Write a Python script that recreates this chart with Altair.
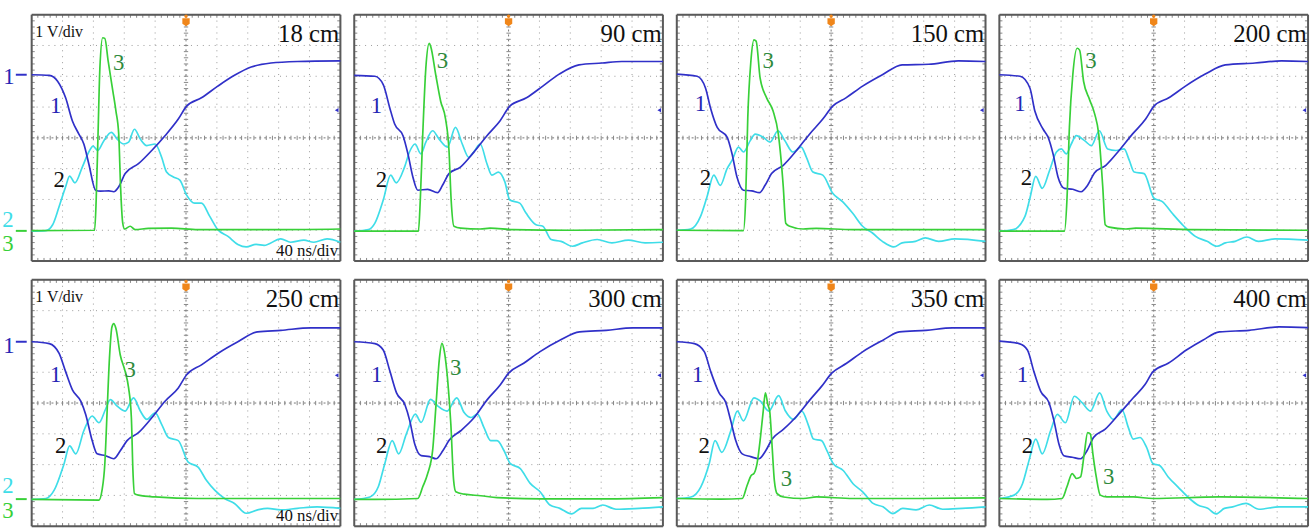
import altair as alt
import pandas as pd

TITLES = ["18 cm", "90 cm", "150 cm", "200 cm", "250 cm", "300 cm", "350 cm", "400 cm"]

# ---- trace 1 (blue), trace 2 (cyan), trace 3 (green); x in divisions (0..10), y in divisions (-4..4)
P1_CH1 = [(0, 2.05), (0.57, 2.03), (0.84, 1.84), (1.10, 1.30), (1.32, 0.55), (1.53, 0.12), (1.69, -0.20),
          (1.85, -0.84), (2.07, -1.70), (2.23, -1.73), (2.50, -1.72), (2.66, -1.75), (2.82, -1.59),
          (3.03, -1.16), (3.46, -0.84), (3.89, -0.41), (4.32, 0.07), (4.75, 0.61), (5.02, 1.03),
          (5.50, 1.30), (6.03, 1.68), (6.57, 2.03), (7.11, 2.30), (7.75, 2.43), (8.61, 2.48), (10, 2.50)]
P1_CH2 = [(0, -3.03), (0.46, -3.01), (0.68, -2.82), (0.89, -2.23), (1.10, -1.59), (1.23, -1.24),
          (1.40, -1.46), (1.64, -0.95), (1.85, -0.46), (1.99, -0.27), (2.14, -0.41), (2.34, -0.09),
          (2.58, 0.18), (2.77, -0.04), (2.98, -0.20), (3.14, -0.14), (3.33, 0.28), (3.52, -0.04),
          (3.73, -0.25), (4.0, -0.20), (4.21, -0.63), (4.37, -1.11), (4.59, -1.27), (4.80, -1.37),
          (5.02, -1.86), (5.28, -2.12), (5.50, -2.12), (5.77, -2.55), (6.03, -2.98), (6.36, -3.20),
          (6.68, -3.46), (6.95, -3.54), (7.27, -3.46), (7.53, -3.49), (8.07, -3.28), (8.39, -3.39),
          (8.82, -3.32), (9.14, -3.39), (9.57, -3.28), (10, -3.39)]
P1_CH3 = [(0, -3.01), (2.04, -3.00), (2.09, -2.02), (2.15, 0.12), (2.21, 2.27), (2.30, 3.25), (2.37, 3.23),
          (2.48, 2.48), (2.63, 1.52), (2.73, 0.87), (2.82, 0.12), (2.88, -1.59), (2.95, -2.77),
          (3.01, -2.96), (3.19, -2.87), (3.35, -2.98), (3.78, -2.94), (4.53, -2.93), (5.39, -2.98),
          (6.46, -2.98), (8.07, -2.98), (10, -2.96)]

P2_CH1 = [(0, 2.03), (0.67, 2.0), (0.94, 1.73), (1.15, 0.98), (1.31, 0.45), (1.58, 0.07), (1.74, -0.52),
          (1.90, -1.27), (2.06, -1.70), (2.38, -1.67), (2.70, -1.78), (2.86, -1.54), (3.07, -1.16),
          (3.44, -0.95), (3.87, -0.47), (4.30, 0.07), (4.72, 0.55), (5.04, 1.03), (5.58, 1.30),
          (6.11, 1.68), (6.64, 2.07), (7.28, 2.37), (8.03, 2.43), (8.67, 2.48), (10, 2.48)]
P2_CH2 = [(0, -3.03), (0.46, -2.98), (0.67, -2.77), (0.94, -2.02), (1.18, -1.21), (1.36, -1.46),
          (1.63, -0.95), (1.79, -0.46), (1.97, -0.20), (2.16, -0.52), (2.32, -0.14), (2.54, 0.23),
          (2.75, -0.04), (3.02, -0.30), (3.28, 0.34), (3.50, -0.20), (3.71, -0.63), (3.87, -0.46),
          (4.08, -0.20), (4.30, -0.84), (4.46, -1.21), (4.67, -1.11), (4.88, -1.43), (5.04, -2.02),
          (5.36, -2.12), (5.57, -2.45), (5.89, -2.82), (6.11, -2.87), (6.38, -3.30), (6.70, -3.36),
          (7.07, -3.52), (7.39, -3.41), (7.87, -3.30), (8.35, -3.41), (8.88, -3.32), (9.42, -3.41),
          (10, -3.39)]
P2_CH3 = [(0, -3.03), (2.08, -3.03), (2.14, -2.02), (2.22, 0.12), (2.32, 2.27), (2.43, 3.07), (2.48, 2.96),
          (2.64, 2.05), (2.80, 1.19), (2.96, 0.61), (3.07, -0.41), (3.14, -2.02), (3.23, -2.87),
          (3.45, -2.93), (4.08, -2.96), (4.40, -2.93), (5.15, -2.98), (7.07, -3.00), (10, -2.98)]

P3_CH1 = [(0, 2.07), (0.66, 2.0), (0.93, 1.62), (1.09, 0.98), (1.31, 0.34), (1.63, 0.02), (1.79, -0.52),
          (1.95, -1.27), (2.16, -1.70), (2.43, -1.72), (2.68, -1.78), (2.86, -1.54), (3.07, -1.16),
          (3.45, -0.89), (3.88, -0.41), (4.30, 0.12), (4.73, 0.61), (5.05, 1.03), (5.48, 1.30),
          (6.02, 1.68), (6.66, 2.05), (7.30, 2.37), (8.16, 2.39), (9.12, 2.50), (10, 2.48)]
P3_CH2 = [(0, -3.0), (0.45, -2.96), (0.77, -2.55), (0.98, -1.91), (1.20, -1.21), (1.41, -1.54),
          (1.63, -1.0), (1.79, -0.73), (2.0, -0.30), (2.16, -0.46), (2.38, -0.09), (2.54, 0.12),
          (2.80, 0.02), (3.02, -0.14), (3.28, 0.23), (3.50, -0.09), (3.76, -0.46), (4.03, -0.30),
          (4.20, -0.63), (4.41, -1.11), (4.73, -1.21), (5.05, -1.80), (5.37, -2.07), (5.70, -2.45),
          (6.02, -2.87), (6.34, -3.09), (6.66, -3.36), (7.03, -3.54), (7.30, -3.41), (7.73, -3.36),
          (8.05, -3.25), (8.48, -3.36), (9.01, -3.28), (10, -3.36)]
P3_CH3 = [(0, -3.0), (2.16, -3.01), (2.23, -2.02), (2.30, 0.66), (2.40, 2.48), (2.50, 3.18), (2.57, 3.14),
          (2.70, 1.94), (2.91, 1.30), (3.12, 0.87), (3.29, 0.12), (3.45, -1.59), (3.53, -2.77),
          (3.66, -2.87), (4.09, -2.96), (4.52, -2.94), (5.70, -2.98), (10, -2.98)]

P4_CH1 = [(0, 2.05), (0.67, 2.0), (0.99, 1.62), (1.15, 0.87), (1.42, 0.28), (1.58, 0.02), (1.74, -0.52),
          (1.90, -1.27), (2.11, -1.64), (2.38, -1.67), (2.65, -1.75), (2.86, -1.54), (3.08, -1.14),
          (3.45, -0.89), (3.88, -0.41), (4.31, 0.12), (4.74, 0.61), (5.01, 1.03), (5.49, 1.30),
          (6.03, 1.68), (6.67, 2.07), (7.32, 2.37), (8.28, 2.43), (9.14, 2.50), (10, 2.48)]
P4_CH2 = [(0, -3.03), (0.45, -2.98), (0.83, -2.55), (0.99, -1.96), (1.18, -1.25), (1.39, -1.64),
          (1.63, -1.05), (1.85, -0.46), (2.01, -0.36), (2.17, -0.52), (2.33, -0.20), (2.49, 0.07),
          (2.76, -0.09), (2.98, -0.25), (3.24, 0.23), (3.51, -0.36), (3.78, -0.41), (4.04, -0.36),
          (4.21, -0.73), (4.37, -1.11), (4.69, -1.16), (5.01, -1.96), (5.28, -2.07), (5.60, -2.45),
          (5.98, -2.87), (6.35, -3.20), (6.73, -3.36), (7.05, -3.52), (7.32, -3.41), (7.64, -3.36),
          (8.02, -3.22), (8.39, -3.36), (8.93, -3.28), (10, -3.32)]
P4_CH3 = [(0, -3.03), (2.11, -3.03), (2.19, -2.02), (2.27, 0.34), (2.38, 2.05), (2.52, 2.91), (2.60, 2.85),
          (2.73, 1.83), (2.92, 1.25), (3.09, 0.77), (3.22, 0.12), (3.35, -1.59), (3.43, -2.82),
          (3.56, -2.90), (4.10, -2.96), (4.42, -2.93), (6.24, -2.98), (10, -3.0)]

P5_CH1 = [(0, 1.99), (0.57, 1.93), (0.89, 1.61), (1.10, 1.02), (1.32, 0.43), (1.59, 0.06), (1.75, -0.37),
          (1.96, -1.22), (2.12, -1.65), (2.39, -1.71), (2.66, -1.81), (2.87, -1.55), (3.09, -1.22),
          (3.46, -0.96), (3.89, -0.48), (4.32, 0.06), (4.75, 0.49), (5.02, 0.92), (5.50, 1.24),
          (6.03, 1.61), (6.68, 1.99), (7.32, 2.31), (8.07, 2.36), (9.04, 2.44), (10, 2.44)]
P5_CH2 = [(0, -3.13), (0.46, -3.10), (0.73, -2.83), (1.05, -1.97), (1.23, -1.39), (1.43, -1.65),
          (1.69, -0.90), (1.96, -0.42), (2.18, -0.64), (2.39, -0.21), (2.55, 0.11), (2.77, -0.10),
          (3.03, -0.26), (3.30, 0.17), (3.52, -0.26), (3.73, -0.53), (4.0, -0.32), (4.21, -0.69),
          (4.43, -1.12), (4.75, -1.22), (5.07, -1.92), (5.39, -2.08), (5.66, -2.51), (5.93, -2.83),
          (6.25, -3.10), (6.57, -3.26), (6.95, -3.58), (7.32, -3.47), (7.64, -3.42), (8.07, -3.47),
          (8.61, -3.42), (9.25, -3.37), (10, -3.42)]
P5_CH3 = [(0, -3.13), (2.18, -3.15), (2.28, -2.83), (2.37, -1.97), (2.44, -0.37), (2.52, 1.45), (2.60, 2.47),
          (2.66, 2.58), (2.73, 2.42), (2.87, 1.56), (3.03, 1.02), (3.14, 0.49), (3.23, -0.48),
          (3.28, -2.19), (3.33, -2.94), (3.46, -2.99), (4.0, -3.05), (5.39, -3.10), (7.53, -3.10),
          (10, -3.10)]

P6_CH1 = [(0, 1.99), (0.67, 1.93), (0.94, 1.72), (1.16, 1.02), (1.37, 0.33), (1.64, -0.05), (1.80, -0.58),
          (1.96, -1.33), (2.17, -1.71), (2.44, -1.74), (2.65, -1.81), (2.87, -1.55), (3.08, -1.20),
          (3.45, -0.90), (3.88, -0.48), (4.31, 0.11), (4.74, 0.60), (5.0, 0.97), (5.49, 1.29),
          (6.02, 1.67), (6.66, 2.04), (7.30, 2.31), (8.16, 2.36), (9.02, 2.44), (10, 2.44)]
P6_CH2 = [(0, -3.13), (0.51, -3.05), (0.78, -2.72), (0.99, -1.97), (1.23, -1.22), (1.44, -1.65),
          (1.69, -1.0), (1.98, -0.36), (2.17, -0.63), (2.47, 0.12), (2.71, -0.10), (3.01, -0.26),
          (3.32, 0.17), (3.56, -0.31), (3.78, -0.47), (3.99, -0.36), (4.20, -0.79), (4.42, -1.22),
          (4.63, -1.22), (4.85, -1.54), (5.06, -1.97), (5.38, -2.13), (5.70, -2.61), (6.02, -2.88),
          (6.34, -3.31), (6.66, -3.42), (7.04, -3.60), (7.36, -3.42), (7.73, -3.42), (8.05, -3.31),
          (8.48, -3.45), (9.23, -3.42), (10, -3.37)]
P6_CH3 = [(0, -3.13), (0.67, -3.13), (2.06, -3.10), (2.22, -2.72), (2.38, -2.29), (2.54, -1.54),
          (2.65, -0.05), (2.76, 1.45), (2.84, 1.94), (2.92, 1.67), (3.03, 0.71), (3.13, -0.69),
          (3.22, -2.51), (3.29, -2.88), (3.56, -2.96), (4.10, -3.01), (4.63, -3.07), (6.02, -3.11),
          (8.16, -3.11), (10, -3.07)]

P7_CH1 = [(0, 1.99), (0.57, 1.93), (0.89, 1.67), (1.10, 1.02), (1.37, 0.33), (1.59, 0.01), (1.75, -0.58),
          (1.91, -1.22), (2.12, -1.65), (2.39, -1.74), (2.66, -1.81), (2.88, -1.55), (3.09, -1.17),
          (3.46, -0.85), (3.89, -0.42), (4.32, 0.11), (4.69, 0.54), (5.02, 0.97), (5.50, 1.29),
          (6.03, 1.67), (6.68, 2.04), (7.21, 2.31), (8.07, 2.36), (8.93, 2.44), (10, 2.44)]
P7_CH2 = [(0, -3.10), (0.46, -3.05), (0.78, -2.72), (1.05, -1.97), (1.24, -1.22), (1.46, -1.60),
          (1.75, -0.90), (1.96, -0.26), (2.16, -0.58), (2.50, 0.17), (2.71, 0.06), (2.98, -0.26),
          (3.30, 0.24), (3.52, -0.26), (3.78, -0.53), (4.05, -0.26), (4.27, -0.74), (4.43, -1.17),
          (4.69, -1.22), (4.86, -1.54), (5.07, -1.97), (5.39, -2.19), (5.71, -2.62), (6.03, -2.89),
          (6.36, -3.26), (6.68, -3.37), (7.0, -3.59), (7.32, -3.42), (7.75, -3.47), (8.18, -3.31),
          (8.61, -3.45), (9.25, -3.42), (10, -3.37)]
P7_CH3 = [(0, -3.10), (1.43, -3.12), (2.12, -3.10), (2.28, -2.67), (2.41, -2.35), (2.50, -2.29),
          (2.60, -1.97), (2.71, -1.12), (2.80, -0.26), (2.87, 0.33), (2.95, -0.05), (3.01, -0.26),
          (3.09, -1.44), (3.16, -2.51), (3.25, -2.94), (3.46, -3.05), (4.10, -3.10), (4.53, -3.05),
          (5.71, -3.10), (7.86, -3.10), (10, -3.08)]

P8_CH1 = [(0, 2.01), (0.64, 1.93), (0.91, 1.72), (1.12, 1.02), (1.34, 0.38), (1.61, 0.01), (1.77, -0.58),
          (1.93, -1.33), (2.09, -1.71), (2.36, -1.76), (2.63, -1.81), (2.84, -1.55), (3.05, -1.12),
          (3.43, -0.85), (3.91, -0.32), (4.34, 0.17), (4.72, 0.60), (4.98, 1.02), (5.47, 1.29),
          (6.06, 1.72), (6.59, 2.04), (7.13, 2.31), (8.09, 2.36), (9.06, 2.47), (10, 2.45)]
P8_CH2 = [(0, -3.10), (0.48, -2.99), (0.75, -2.62), (0.96, -1.87), (1.18, -1.17), (1.39, -1.65),
          (1.66, -0.90), (1.88, -0.37), (2.14, -0.64), (2.43, 0.22), (2.68, 0.01), (2.95, -0.26),
          (3.25, 0.33), (3.48, -0.26), (3.70, -0.53), (3.97, -0.21), (4.18, -0.80), (4.34, -1.17),
          (4.56, -1.12), (4.77, -1.44), (4.98, -1.97), (5.19, -2.03), (5.47, -2.40), (5.79, -2.73),
          (6.16, -3.10), (6.43, -3.31), (6.75, -3.42), (7.02, -3.60), (7.29, -3.42), (7.56, -3.37),
          (7.99, -3.26), (8.41, -3.45), (9.06, -3.37), (10, -3.37)]
P8_CH3 = [(0, -3.10), (1.55, -3.13), (2.03, -3.10), (2.19, -2.72), (2.36, -2.29), (2.50, -2.45),
          (2.63, -2.40), (2.75, -1.65), (2.86, -0.96), (2.95, -1.01), (3.03, -1.65), (3.14, -2.40),
          (3.27, -2.99), (3.48, -3.05), (4.34, -3.05), (4.98, -3.10), (7.13, -3.05), (10, -3.10)]

TRACES = [(P1_CH1, P1_CH2, P1_CH3), (P2_CH1, P2_CH2, P2_CH3), (P3_CH1, P3_CH2, P3_CH3),
          (P4_CH1, P4_CH2, P4_CH3), (P5_CH1, P5_CH2, P5_CH3), (P6_CH1, P6_CH2, P6_CH3),
          (P7_CH1, P7_CH2, P7_CH3), (P8_CH1, P8_CH2, P8_CH3)]

# trace label positions (x, y) for labels "1", "2", "3" in each panel
LABEL1 = [(0.78, 1.03), (0.72, 1.03), (0.77, 1.09), (0.67, 1.09), (0.78, 0.92), (0.73, 0.92), (0.68, 0.92), (0.75, 0.92)]
LABEL2 = [(0.89, -1.37), (0.88, -1.37), (0.93, -1.32), (0.88, -1.32), (0.94, -1.39), (0.89, -1.39), (0.89, -1.39), (0.91, -1.39)]
LABEL3 = [(2.82, 2.43), (2.86, 2.48), (2.96, 2.48), (2.97, 2.48), (3.19, 1.08), (3.29, 1.13), (3.55, -2.46), (3.54, -2.41)]

# left-side channel markers per row: (level of ch1, y of "1", y of "2", y of "3", baseline)
ROW_LEFT = [(2.05, 1.97, -2.66, -3.45, -3.02), (1.99, 1.85, -2.70, -3.52, -3.12)]

BLUE, CYAN, GREEN = "#3030c8", "#3fdde8", "#38d038"
LBL_BLUE, LBL_GREEN = "#2626b4", "#2f8a3c"
FONT = "Liberation Serif"
PW, PH = 312, 249
LW = 27

XS = alt.Scale(domain=[0, 10], nice=False, zero=False)
YS = alt.Scale(domain=[-4, 4], nice=False, zero=False)


def qx(f="x"):
    return alt.X(f"{f}:Q", scale=XS, axis=None)


def qy(f="y"):
    return alt.Y(f"{f}:Q", scale=YS, axis=None)


def panel(k):
    ch1, ch2, ch3 = TRACES[k]
    layers = []
    # grid
    vg = pd.DataFrame({"x": [v for v in range(1, 10) if v != 5]})
    hg = pd.DataFrame({"y": [v for v in range(-3, 4) if v != 0]})
    layers.append(alt.Chart(vg).mark_rule(color="#9a9a9a", strokeWidth=1, strokeDash=[1, 5]).encode(x=qx()))
    layers.append(alt.Chart(hg).mark_rule(color="#9a9a9a", strokeWidth=1, strokeDash=[1, 5]).encode(y=qy()))
    layers.append(alt.Chart(pd.DataFrame({"x": [5]})).mark_rule(color="#777", strokeWidth=1, strokeDash=[2, 3]).encode(x=qx()))
    layers.append(alt.Chart(pd.DataFrame({"y": [0]})).mark_rule(color="#777", strokeWidth=1, strokeDash=[2, 3]).encode(y=qy()))
    # minor ticks on center cross and frame edges
    xt = [i / 5 for i in range(1, 50)]
    yt = [i / 5 - 4 for i in range(1, 40)]
    tick_rows = []
    for v in xt:
        tick_rows.append({"x": v, "x2": v, "y": -0.07, "y2": 0.07})
        tick_rows.append({"x": v, "x2": v, "y": 4, "y2": 3.9})
        tick_rows.append({"x": v, "x2": v, "y": -4, "y2": -3.9})
    for v in yt:
        tick_rows.append({"x": 4.93, "x2": 5.07, "y": v, "y2": v})
        tick_rows.append({"x": 0, "x2": 0.1, "y": v, "y2": v})
        tick_rows.append({"x": 10, "x2": 9.9, "y": v, "y2": v})
    layers.append(alt.Chart(pd.DataFrame(tick_rows)).mark_rule(color="#888", strokeWidth=1).encode(
        x=qx(), x2="x2:Q", y=qy(), y2="y2:Q"))
    # frame
    layers.append(alt.Chart(pd.DataFrame({"x": [0, 10]})).mark_rule(color="#5a5a5a", strokeWidth=2).encode(x=qx()))
    layers.append(alt.Chart(pd.DataFrame({"y": [-4, 4]})).mark_rule(color="#5a5a5a", strokeWidth=2).encode(y=qy()))
    # traces
    for pts, col in ((ch2, CYAN), (ch1, BLUE), (ch3, GREEN)):
        df = pd.DataFrame({"x": [p[0] for p in pts], "y": [p[1] for p in pts], "i": list(range(len(pts)))})
        layers.append(alt.Chart(df).mark_line(color=col, strokeWidth=1.7, interpolate="monotone").encode(
            x=qx(), y=qy(), order="i:Q"))
    # markers: trigger (orange) and level arrow (blue)
    layers.append(alt.Chart(pd.DataFrame({"x": [5], "y": [3.74]})).mark_point(
        shape="M-1,-1.2L1,-1.2L1,0.3L0,1L-1,0.3Z", filled=True, color="#f0861a", opacity=1, size=55).encode(x=qx(), y=qy()))
    layers.append(alt.Chart(pd.DataFrame({"x": [5], "y": [3.95]})).mark_point(
        shape="circle", filled=True, color="#f0861a", opacity=1, size=12).encode(x=qx(), y=qy()))
    layers.append(alt.Chart(pd.DataFrame({"x": [9.88], "y": [0.9]})).mark_point(
        shape="triangle-left", filled=True, color=BLUE, opacity=1, size=18).encode(x=qx(), y=qy()))
    # texts
    lab = pd.DataFrame({
        "x": [LABEL1[k][0], LABEL2[k][0], LABEL3[k][0]],
        "y": [LABEL1[k][1], LABEL2[k][1], LABEL3[k][1]],
        "t": ["1", "2", "3"],
        "c": [LBL_BLUE, "#111111", LBL_GREEN]})
    layers.append(alt.Chart(lab).mark_text(font=FONT, fontSize=23, baseline="middle", align="center").encode(
        x=qx(), y=qy(), text="t:N", color=alt.Color("c:N", scale=None)))
    layers.append(alt.Chart(pd.DataFrame({"x": [9.96], "y": [3.38], "t": [TITLES[k]]})).mark_text(
        font=FONT, fontSize=25, align="right", baseline="middle", color="#111").encode(x=qx(), y=qy(), text="t:N"))
    if k in (0, 4):
        layers.append(alt.Chart(pd.DataFrame({"x": [0.12], "y": [3.45], "t": ["1 V/div"]})).mark_text(
            font=FONT, fontSize=16, align="left", baseline="middle", color="#111").encode(x=qx(), y=qy(), text="t:N"))
        layers.append(alt.Chart(pd.DataFrame({"x": [9.93], "y": [-3.68], "t": ["40 ns/div"]})).mark_text(
            font=FONT, fontSize=17, align="right", baseline="middle", color="#111").encode(x=qx(), y=qy(), text="t:N"))
    return alt.layer(*layers).properties(width=PW, height=PH)


LXS = alt.Scale(domain=[0, LW], nice=False, zero=False)


def left_panel(r):
    lvl, y1, y2, y3, base = ROW_LEFT[r]
    layers = []
    dash = pd.DataFrame({"x": [16, 16], "x2": [LW, LW], "y": [lvl, base], "c": [BLUE, GREEN]})
    layers.append(alt.Chart(dash).mark_rule(strokeWidth=2).encode(
        x=alt.X("x:Q", scale=LXS, axis=None), x2="x2:Q", y=qy(), color=alt.Color("c:N", scale=None)))
    txt = pd.DataFrame({"x": [9, 8, 8], "y": [y1, y2, y3], "t": ["1", "2", "3"], "c": [LBL_BLUE, CYAN, GREEN]})
    layers.append(alt.Chart(txt).mark_text(font=FONT, fontSize=23, align="center", baseline="middle").encode(
        x=alt.X("x:Q", scale=LXS, axis=None), y=qy(), text="t:N", color=alt.Color("c:N", scale=None)))
    return alt.layer(*layers).properties(
        width=LW, height=PH, view=alt.ViewBackground(stroke="transparent", strokeWidth=0, fill="transparent"))


rows = []
for r in range(2):
    panels = alt.hconcat(*[panel(4 * r + j) for j in range(4)], spacing=6)
    rows.append(alt.hconcat(left_panel(r), panels, spacing=0))

chart = alt.vconcat(*rows, spacing=15).properties(
    padding={"left": 0, "top": 10, "right": 0, "bottom": 0}
).configure_view(stroke="transparent", strokeWidth=0).configure(background="white")

chart.save("out.html", embed_options={"renderer": "svg", "actions": False})
